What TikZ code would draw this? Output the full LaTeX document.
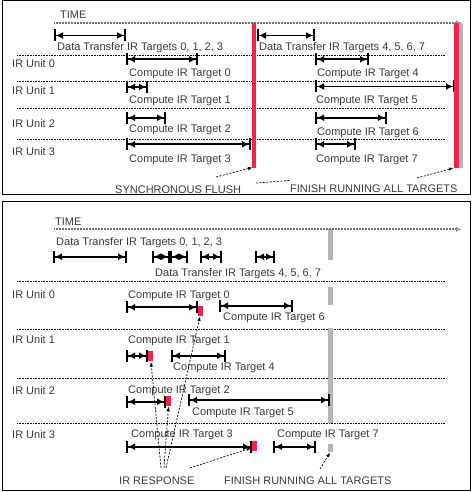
\documentclass[tikz,border=0pt]{standalone}
\usepackage{fontspec}
\setmainfont{Liberation Sans}
\usetikzlibrary{arrows.meta}
\definecolor{ink}{HTML}{3A3A3A}
\definecolor{flushred}{HTML}{F5224E}
\definecolor{barfill}{HTML}{B5B5B5}

\begin{document}
\begin{tikzpicture}[x=1pt, y=-1pt, line join=miter,
  lbl/.style={anchor=base west, inner sep=0pt, text=ink, font=\fontsize{11}{13}\selectfont},
  span/.style={line width=1.8pt, {Bar[width=12pt,line width=2pt]Latex[length=7pt,width=7pt]}-{Latex[length=7pt,width=7pt]Bar[width=12pt,line width=2pt]}},
  timeaxis/.style={line width=2pt, black!55, dash pattern=on 0.9pt off 0.6pt, -{Latex[open,length=5pt,width=5pt,line width=0.7pt]}},
  sep/.style={line width=0.7pt, dash pattern=on 0.8pt off 0.8pt},
  lead/.style={line width=0.7pt, dash pattern=on 2pt off 1.5pt, -{Latex[length=4.5pt,width=3.5pt]}}]
  \useasboundingbox (0,0) rectangle (472,492);
  \draw[line width=1pt] (2.5,0.8) rectangle (470.5,194.5);
  \draw[line width=1pt] (2.5,201.5) rectangle (470.5,490);
  \foreach \y in {55.5,81,108.3,139.5,281.7,329.3,378.3,423.3} \draw[sep] (17,\y) -- (445,\y);

  % upper panel
  \node[lbl] (timea) at (60,18.3) {TIME};
  \draw[timeaxis] (54,22.7) -- (461,22.7);
  \foreach \i/\y in {0/67.7,1/95,2/128,3/155} \node[lbl] (ua\i) at (12,\y) {IR Unit \i};
  \draw[span] (54,35.5) -- (126,35.5);
  \node[lbl] (dta) at (57,51) {Data Transfer IR Targets 0, 1, 2, 3};
  \draw[span] (257,35.5) -- (315,35.5);
  \node[lbl] (dtb) at (259,51) {Data Transfer IR Targets 4, 5, 6, 7};
  \draw[span] (126,59.3) -- (198,59.3);
  \node[lbl] (ca0) at (129,76.5) {Compute IR Target 0};
  \draw[span] (315,59.3) -- (369,59.3);
  \node[lbl] (ca4) at (317,76.5) {Compute IR Target 4};
  \draw[span] (126,87) -- (148,87);
  \node[lbl] (ca1) at (129,103.5) {Compute IR Target 1};
  \draw[span] (315,86.5) -- (455,86.5);
  \node[lbl] (ca5) at (316,103.5) {Compute IR Target 5};
  \draw[span] (126,117.7) -- (166,117.7);
  \node[lbl] (ca2) at (129,132.5) {Compute IR Target 2};
  \draw[span] (315,117.7) -- (387,117.7);
  \node[lbl] (ca6) at (317,135.7) {Compute IR Target 6};
  \draw[span] (126,144.3) -- (251,144.3);
  \node[lbl] (ca3) at (129,162.5) {Compute IR Target 3};
  \draw[span] (315,144.3) -- (356,144.3);
  \node[lbl] (ca7) at (316,162) {Compute IR Target 7};
  \fill[flushred] (252,23) rectangle (256,167.5);
  \fill[barfill] (459,23) rectangle (463,167.5);
  \fill[flushred] (454,23) rectangle (459,167.5);
  \coordinate (flushl) at (252.5,167.5);
  \coordinate (flushr) at (453.5,168);
  \node[lbl] (sync) at (115,193) {SYNCHRONOUS FLUSH};
  \node[lbl] (fina) at (290,192.5) {FINISH RUNNING ALL TARGETS};
  \draw[lead] (216,177) -- (flushl);
  \draw[lead, -] (256,183) -- (289,180.5);
  \draw[lead] (417,178) -- (flushr);

  % lower panel
  \fill[barfill] (328,229) rectangle (333,260);
  \fill[barfill] (328,287) rectangle (333,305);
  \fill[barfill] (328,328) rectangle (333,423);
  \node[lbl] (timeb) at (55,225) {TIME};
  \draw[timeaxis] (54,229.3) -- (461,229.3);
  \foreach \i/\y in {0/298.5,1/343,2/394,3/438} \node[lbl] (ub\i) at (12,\y) {IR Unit \i};
  \node[lbl] (dtc) at (56,245) {Data Transfer IR Targets 0, 1, 2, 3};
  \foreach \a/\b in {53/127,152/170,170/188,200/222,255/275} \draw[span] (\a,256.7) -- (\b,256.7);
  \node[lbl] (dtd) at (155,276.5) {Data Transfer IR Targets 4, 5, 6, 7};
  \node[lbl] (cb0) at (128,298) {Compute IR Target 0};
  \draw[span] (126,307.3) -- (198,307.3);
  \fill[flushred] (198.3,305.7) rectangle (203.3,315.7);
  \draw[span] (219,305.7) -- (293,305.7);
  \node[lbl] (cb6) at (223,320) {Compute IR Target 6};
  \node[lbl] (cb1) at (128,343) {Compute IR Target 1};
  \draw[span] (126,355.7) -- (148,355.7);
  \fill[flushred] (148,351) rectangle (153,361);
  \draw[span] (171,355.7) -- (226,355.7);
  \node[lbl] (cb4) at (173,370) {Compute IR Target 4};
  \node[lbl] (cb2) at (128,393) {Compute IR Target 2};
  \draw[span] (126,401.7) -- (166,401.7);
  \fill[flushred] (166,396) rectangle (171,406);
  \draw[span] (188,400) -- (330,400);
  \node[lbl] (cb5) at (192,415) {Compute IR Target 5};
  \node[lbl] (cb3) at (131,437.5) {Compute IR Target 3};
  \draw[span] (126,446.7) -- (252,446.7);
  \fill[flushred] (252,441) rectangle (257,451);
  \draw[span] (273,446.7) -- (316,446.7);
  \node[lbl] (cb7) at (277,437.5) {Compute IR Target 7};
  \fill[barfill] (328,444) rectangle (333,452);
  \coordinate (irr0) at (200,316.5);
  \coordinate (irr1) at (151,362);
  \coordinate (irr2) at (168.5,406.5);
  \coordinate (irr3) at (251,448);
  \coordinate (finb) at (330,452.5);
  \node[lbl] (resp) at (119,484) {IR RESPONSE};
  \node[lbl] (finc) at (224,484) {FINISH RUNNING ALL TARGETS};
  \draw[lead] (161,468) -- (irr1);
  \draw[lead] (164,468) -- (irr2);
  \draw[lead] (166,468) -- (irr0);
  \draw[lead] (190,468) -- (irr3);
  \draw[lead] (320,469) -- (finb);
\end{tikzpicture}
\end{document}
